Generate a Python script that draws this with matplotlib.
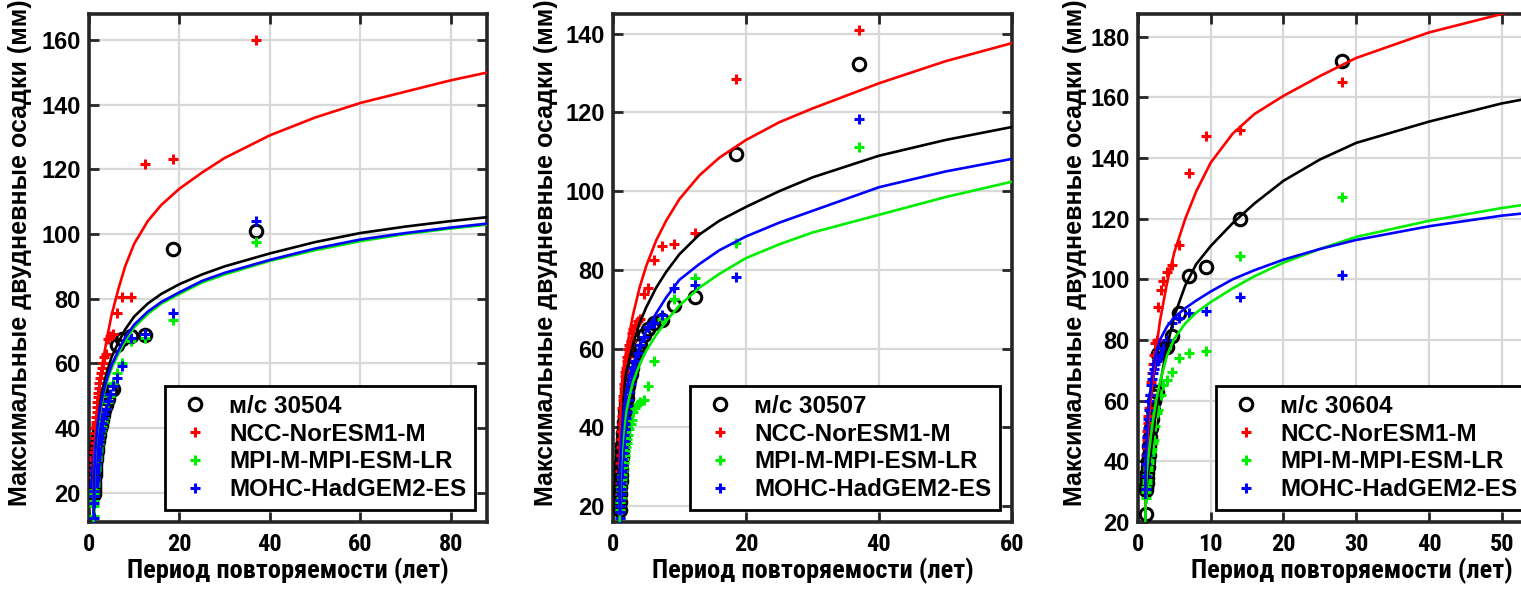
import numpy as np
import matplotlib
matplotlib.use("Agg")
import matplotlib.pyplot as plt
from matplotlib import font_manager

# return periods (years) of the ranked annual maxima
t36 = [37, 18.5, 12.33, 9.25, 7.4, 6.17, 5.29, 4.63, 4.11, 3.7, 3.36, 3.08,
       2.85, 2.64, 2.47, 2.31, 2.18, 2.06, 1.95, 1.85, 1.76, 1.68, 1.61, 1.54,
       1.48, 1.42, 1.37, 1.32, 1.28, 1.23, 1.19, 1.16, 1.12, 1.09, 1.06, 1.03]
t27 = [28, 14, 9.33, 7, 5.6, 4.67, 4, 3.5, 3.11, 2.8, 2.55, 2.33, 2.15, 2,
       1.87, 1.75, 1.65, 1.56, 1.47, 1.4, 1.33, 1.27, 1.22, 1.17, 1.12, 1.08, 1.04]

# return periods where the fitted curves are evaluated
t_fit = [1.01, 1.05, 1.1, 1.2, 1.35, 1.5, 1.75, 2, 2.5, 3, 4, 5, 6.5, 8, 10,
         13, 16, 20, 25, 30, 40, 50, 60, 70, 80, 90]

# station 30504
obs1 = [101, 95.5, 68.7, 68.5, 67.6, 65.6, 52, 51.5, 49, 47, 45.5, 44,
        42.5, 41, 40, 39, 38, 37, 36, 35, 34, 33, 32.5, 31.5,
        30.5, 29.5, 28.5, 27.5, 26.5, 25.5, 24.5, 23.5, 22.5, 21.5, 20.5, 19.5]
ncc1 = [160, 123.3, 121.5, 80.6, 80.6, 75.6, 69.2, 68.5, 67.5, 63, 62, 60,
        58.5, 57, 55.5, 54, 52.5, 51, 49.5, 48, 46.5, 45, 43.5, 42,
        41, 40, 38.5, 37, 35.5, 34, 32.5, 31, 30, 28.5, 27, 25]
mpi1 = [97.5, 73.3, 68, 67, 60, 57, 54, 50, 48, 46, 43, 42,
        40.5, 39, 38, 36.5, 35, 34, 33, 32, 31, 30, 29, 28,
        27, 26, 25, 24, 23, 22, 21, 20, 19, 17.5, 16, 13]
mohc1 = [104, 75.6, 69, 68, 59.1, 55.5, 53, 50.5, 48.5, 46, 44.5, 43,
         41.5, 40, 39, 38, 37, 36, 35, 34, 33, 32, 31, 30,
         29, 28, 27, 26, 25, 24, 23, 22, 20.5, 19, 17, 12.3]
fit_obs1 = [14, 20, 25, 30, 34.5, 37.5, 41, 44, 48.5, 52, 57.5, 62, 66.5,
            70.5, 74.5, 78.5, 81.5, 84.5, 87.5, 90, 94, 97.5, 100.3, 102.3, 104, 105.5]
fit_ncc1 = [18, 24, 28, 33, 37.5, 41, 45.5, 49, 55, 60, 68, 75, 83,
            90, 97, 104, 109, 114, 119, 123.5, 130.5, 136, 140.5, 144, 147.5, 150.5]
fit_mpi1 = [11, 16, 21, 26, 30.5, 34, 38, 41, 45.5, 49, 54.5, 58.5, 63,
            67, 71.2, 75.3, 78.5, 81.5, 85, 87.5, 91.7, 95, 97.8, 100, 101.7, 103.2]
fit_mohc1 = [12, 17, 22, 27, 31.5, 35, 39, 42, 46.5, 50, 55.5, 59.5, 64,
             68, 72, 76, 79, 82, 85.5, 88, 92, 95.5, 98.3, 100.3, 102, 103.5]

# station 30507
obs2 = [132.2, 109.5, 73.2, 71, 67.4, 66.5, 65, 63.5, 61, 59.5, 58, 56.5,
        55, 53.5, 52, 50.5, 49, 47.5, 46, 44.5, 43, 41.5, 40, 38.5,
        37, 35.5, 34, 32.5, 31, 29.5, 28, 26.5, 25, 23, 21, 19]
ncc2 = [141, 128.4, 89.4, 86.7, 86, 82.4, 75.5, 74, 67.5, 67, 66, 65,
        64, 62, 61, 60, 58, 57, 55, 54, 53, 51, 50, 48,
        47, 45, 43, 41, 39, 37, 35, 33, 31, 29, 26, 23]
mpi2 = [111.3, 86.9, 77.9, 72.5, 67.5, 56.9, 50.5, 47, 46.5, 46, 45, 44,
        42, 41, 39.5, 38, 37, 36, 35, 34, 33, 32, 31, 30,
        29, 28, 27, 26, 25, 24, 23, 22, 21, 20, 19, 17]
mohc2 = [118.4, 78.3, 76.2, 75.5, 68.5, 66.5, 65.5, 63, 61, 59, 57, 55,
         53, 51, 49, 47, 45.5, 44, 42.5, 41, 39.5, 38, 36.5, 35,
         33.5, 32, 30.5, 29, 27.5, 26, 24.5, 23, 21.5, 20, 18.5, 17]
fit_obs2 = [22, 30, 35, 40, 44, 47, 51, 54, 57.5, 61, 66.5, 70.5, 75.5,
            79.5, 84, 89, 92.5, 96, 100, 103.5, 109, 113, 116.3]
fit_ncc2 = [30, 38, 42.5, 47, 51, 54, 57, 59.5, 64, 68.5, 75.5, 81, 87.5,
            92.5, 98, 104, 108.5, 113, 117.5, 121, 127.4, 133, 137.6]
fit_mpi2 = [15, 21, 25.5, 30, 34, 37, 41, 44, 48, 51.5, 56, 59.5, 63.5,
            67, 71, 75.5, 79, 83, 86.5, 89.5, 94, 98.5, 102.4]
fit_mohc2 = [18, 25, 30, 35, 39, 42, 46, 49, 53, 56, 60.5, 64.5, 69,
             73, 77.5, 81.5, 85, 88.5, 92, 95, 101, 105, 108.2]

# station 30604
obs3 = [172.1, 119.8, 104.1, 101, 88.9, 81.3, 77.8, 77.2, 76.6, 75.5,
        63, 61.5, 60, 57, 54, 51, 48, 45, 42, 40,
        38, 36, 34.5, 33, 31.5, 30.5, 22.5]
ncc3 = [165, 149.2, 147.2, 135.2, 111.3, 104.7, 102.5, 99.5, 96.6, 91,
        80, 79, 75, 72, 69, 66, 62, 60, 57.5, 55,
        52.5, 50, 47, 44.5, 42, 39, 35]
mpi3 = [127.2, 107.6, 76.5, 75.6, 74, 69.6, 66.8, 65, 62, 57,
        56, 51.5, 47, 46, 44, 43, 42, 40.5, 39.5, 38,
        37, 35.5, 34, 33, 31.5, 30, 28]
mohc3 = [101.3, 94.3, 89.5, 89, 87.2, 85.5, 80, 77.5, 75, 74,
         73, 72, 70.5, 69, 67, 65, 62, 60, 57, 54,
         51, 48, 45, 42, 39, 35, 31]
fit_obs3 = [20, 26, 29.5, 32.5, 35.5, 38.5, 43, 47.5, 57, 65, 78, 88, 98,
            105, 111, 118.5, 125, 132.5, 139.5, 145, 152, 158, 162.5]
fit_ncc3 = [25, 33, 38, 44, 49.5, 54, 60.5, 66.5, 77, 86, 99, 109, 120,
            129, 138.5, 148, 154.5, 160.5, 167, 173, 181.4, 187.5, 193]
fit_mpi3 = [20, 27, 31, 36, 40, 43, 48, 52.5, 60, 66, 75, 80.5, 85.5,
            89, 92.5, 97, 101, 105.5, 110, 114, 119.3, 123.5, 127]
fit_mohc3 = [28, 38, 43, 49, 54.5, 58.5, 64.5, 70, 76, 80, 84.5, 87.5, 90.5,
             93, 96, 100, 103, 106.5, 110, 113, 117.5, 121, 123.5]

models = ["NCC-NorESM1-M", "MPI-M-MPI-ESM-LR", "MOHC-HadGEM2-ES"]
colors = ["#ff0000", "#00ee00", "#0000ff"]

plt.rcParams['font.family'] = ['Liberation Sans', 'DejaVu Sans']
plt.rcParams['font.weight'] = 'bold'

# x axis text is set in a narrow face when one is installed
installed = {f.name for f in font_manager.fontManager.ttflist}
narrow_sizes = {'Liberation Sans Narrow': (20, 18), 'Roboto Condensed': (19, 17.5),
                'Open Sans Condensed': (18, 17), 'Noto Sans Condensed': (18, 17),
                'DejaVu Sans Condensed': (15.5, 15)}
narrow, xlab_size, xtick_size = ['Liberation Sans'], 16.5, 16
for name, (s1, s2) in narrow_sizes.items():
    if name in installed:
        narrow, xlab_size, xtick_size = [name, 'Liberation Sans'], s1, s2
        break


def panel(rect, t_obs, obs, model_pts, fits, station, xlim, ylim, xticks, yticks,
          ylab_x, xlab_x):
    ax = fig.add_axes(rect)
    n = len(fits[0])
    tf = t_fit[:n]
    ax.plot(t_obs, obs, 'o', mfc='none', mec='k', ms=9, mew=2.2,
            label="м/с " + station, zorder=3)
    for pts, c, name in zip(model_pts, colors, models):
        ax.plot(t_obs, pts, '+', color=c, ms=7.5, mew=2.2, label=name, zorder=3)
    ax.plot(tf, fits[0], color='k', lw=1.9, zorder=4)
    for f, c in zip(fits[1:], colors):
        ax.plot(tf, f, color=c, lw=1.9, zorder=4)

    ax.set_xlim(xlim)
    ax.set_ylim(ylim)
    ax.set_xticks(xticks)
    ax.set_yticks(yticks)
    ax.grid(True, color='#d8d8d8', lw=1.6)
    ax.set_axisbelow(True)
    for s in ax.spines.values():
        s.set_linewidth(2.6)
        s.set_color('#262626')
    ax.tick_params(direction='in', top=True, right=True, length=7, width=2,
                   color='#262626')
    ax.tick_params(axis='y', labelsize=17, pad=6)
    ax.tick_params(axis='x', pad=8)
    for lab in ax.get_xticklabels():
        lab.set_family(narrow)
        lab.set_fontsize(xtick_size)
        lab.set_weight('bold')

    ax.set_ylabel("Максимальные двудневные осадки (мм)", fontsize=18,
                  fontweight='bold')
    ax.yaxis.set_label_coords(ylab_x, 0.53)
    ax.set_xlabel("Период повторяемости (лет)", fontsize=xlab_size,
                  fontweight='bold', family=narrow)
    ax.xaxis.set_label_coords(xlab_x, -0.07)

    leg = ax.legend(loc='lower right', fontsize=17.5, frameon=True, fancybox=False,
                    edgecolor='k', framealpha=1, borderpad=0.35, labelspacing=0.2,
                    handlelength=1.8, handletextpad=0.5, borderaxespad=0.5)
    leg.get_frame().set_linewidth(2)
    return ax


fig = plt.figure(figsize=(15.21, 5.90), dpi=100)

panel([0.0585, 0.1153, 0.2617, 0.861], t36, obs1, [ncc1, mpi1, mohc1],
      [fit_obs1, fit_ncc1, fit_mpi1, fit_mohc1], "30504",
      (0, 88), (11, 168), [0, 20, 40, 60, 80], np.arange(20, 161, 20),
      -0.143, 0.5)
panel([0.403, 0.1153, 0.2623, 0.861], t36, obs2, [ncc2, mpi2, mohc2],
      [fit_obs2, fit_ncc2, fit_mpi2, fit_mohc2], "30507",
      (0, 60), (16, 145), [0, 20, 40, 60], np.arange(20, 141, 20),
      -0.138, 0.5)
panel([0.7482, 0.1153, 0.263, 0.861], t27, obs3, [ncc3, mpi3, mohc3],
      [fit_obs3, fit_ncc3, fit_mpi3, fit_mohc3], "30604",
      (0, 55), (20, 187.5), [0, 10, 20, 30, 40, 50], np.arange(20, 181, 20),
      -0.128, 0.535)

fig.savefig("out.png", dpi=100)
